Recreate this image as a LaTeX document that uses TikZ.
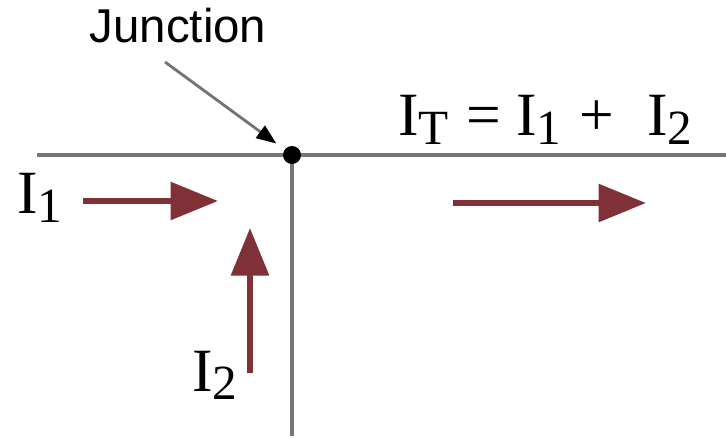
\documentclass[tikz,border=0pt]{standalone}
\usepackage{fontspec}
\setmainfont{Liberation Serif}
\newfontfamily\labelsans{Liberation Sans}
\usetikzlibrary{arrows.meta,positioning}
\definecolor{wiregray}{RGB}{118,118,118}
\definecolor{curred}{RGB}{128,48,55}
\newcommand{\isub}[1]{I\raisebox{-4.8pt}{\fontsize{28}{28}\selectfont #1}}

\begin{document}
\begin{tikzpicture}[
  wire/.style={draw=wiregray, line width=2.2pt},
  current/.style={draw=curred, line width=3.4pt,
                  -{Triangle[length=0.95cm,width=0.74cm]}},
  pointer/.style={draw=black!55, line width=1.6pt,
                  -{Triangle[length=0.4cm,width=0.3cm,color=black]}},
  lbl/.style={inner sep=0pt, anchor=base west, font=\fontsize{35}{37}\selectfont},
  dot/.style={circle, fill=black, inner sep=0pt, minimum size=0.36cm},
]
\useasboundingbox (0,0) rectangle (14.52,-8.78);

% wires
\coordinate (jc) at (5.84,-3.10);
\coordinate (wl) at (0.74,-3.10);
\coordinate (wr) at (14.52,-3.10);
\coordinate (wb) at (5.84,-8.72);
\draw[wire] (wl) -- (wr);
\draw[wire] (jc) -- (wb);
\node[dot] (jn) at (jc) {};

% junction label
\node[inner sep=0pt, anchor=base, font=\labelsans\fontsize{27}{29}\selectfont]
  (jlab) at (3.56,-0.86) {Junction};
\coordinate (ptr) at (3.30,-1.24);
\draw[pointer, shorten >=0.2cm] (ptr) -- (jn);

% currents
\node[lbl] (i1) at (0.34,-4.28) {\isub{1}};
\node[lbl] (i2) at (3.84,-7.82) {\isub{2}};
\node[lbl] (it) at (7.96,-2.72) {\isub{T}\kern1pt{} = \isub{1}\kern1.5pt{} +\ \ \kern1.5pt\isub{2}};

\coordinate (a1s) at (1.66,-4.02);
\coordinate (a1e) at (4.36,-4.02);
\coordinate (a2s) at (5.00,-7.46);
\coordinate (a2e) at (5.00,-4.56);
\coordinate (ats) at (9.06,-4.06);
\coordinate (ate) at (12.92,-4.06);
\draw[current] (a1s) -- (a1e);
\draw[current] (a2s) -- (a2e);
\draw[current] (ats) -- (ate);
\end{tikzpicture}
\end{document}
